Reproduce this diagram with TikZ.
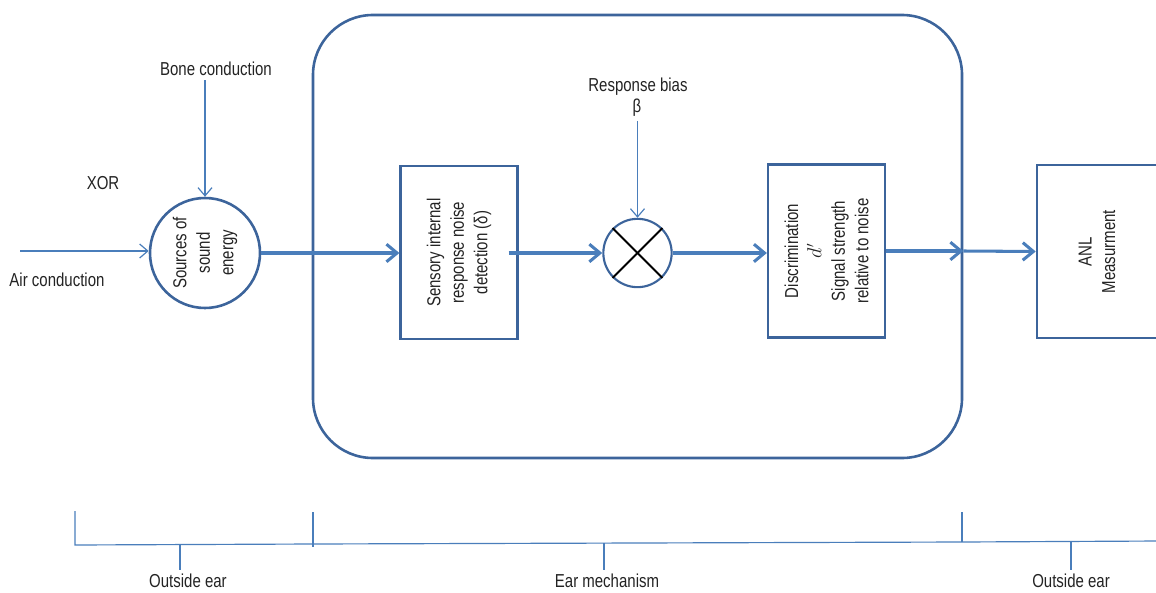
\documentclass[tikz,border=0pt]{standalone}
\usepackage{fontspec}
\setmainfont{Liberation Sans}[FakeStretch=0.8]
\usetikzlibrary{arrows.meta}
\definecolor{edgeblue}{RGB}{60,100,155}
\definecolor{flowblue}{RGB}{74,126,187}
\definecolor{inkgray}{RGB}{35,35,35}
\begin{document}
\begin{tikzpicture}
  [x=0.03cm,y=-0.03cm,font=\fontsize{16}{17.5}\selectfont,text=inkgray,
   block/.style={rectangle,draw=edgeblue,line width=2.2pt,minimum width=3.5cm,minimum height=5.2cm,inner sep=0pt},
   source/.style={circle,draw=edgeblue,line width=2.2pt,minimum size=3.3cm,inner sep=0pt},
   mixer/.style={circle,draw=edgeblue,line width=1.8pt,minimum size=2.05cm,inner sep=0pt},
   flow/.style={draw=flowblue,line width=2.6pt,-{Straight Barb[length=9pt,width=15pt,line width=2.6pt]}},
   feed/.style={draw=flowblue,line width=1pt,-{Straight Barb[length=7pt,width=12pt]}},
   brace/.style={draw=flowblue,line width=1pt},
   rtext/.style={rotate=90,align=center,font=\fontsize{16}{20}\selectfont}]
  \useasboundingbox (0,0) rectangle (1156,592);

  % ear mechanism frame
  \node (ear) at (637.5,236.5) [rectangle,draw=edgeblue,line width=2.2pt,rounded corners=1.8cm,
    minimum width=19.47cm,minimum height=13.29cm] {};

  \node (src) at (205,253) [source] {};
  \node at (src) [rtext] {Sources of\\sound\\energy};
  \node (sens) at (459,252.5) [block] {};
  \node at (sens) [rtext] {Sensory internal\\response noise\\detection (δ)};
  \node (mult) at (637.5,253) [mixer] {};
  \draw [line width=1.6pt,black] (mult.north west) -- (mult.south east);
  \draw [line width=1.6pt,black] (mult.north east) -- (mult.south west);
  \node (disc) at (826.5,251) [block] {};
  \node at (disc) [rtext] {Discrimination\\$d'$\\Signal strength\\relative to noise};
  \node (anl) at (1097,251.5) [block,minimum width=3.6cm] {};
  \node at (anl) [rtext] {ANL\\Measurment};

  % labels
  \node (bone) at (216,69) {Bone conduction};
  \node (xor) at (103,183) {XOR};
  \node (air) at (57,280) {Air conduction};
  \node (bias) at (638,87) {Response bias};
  \node (beta) at (637,108) {β};
  \coordinate (airin) at (20,251);
  \coordinate (edge) at (ear.east |- disc);

  \draw [feed] (airin) -- (src.west |- airin);
  \draw [feed] (bone.south -| src) -- (src.north);
  \draw [feed] (beta.south -| mult) -- (mult.north);
  \draw [flow] (src.east) -- (sens.west |- src);
  \draw [flow] ([xshift=-0.3cm]sens.east |- mult) -- (mult.west);
  \draw [flow] (mult.east) -- (disc.west |- mult);
  \draw [flow] (disc.east) -- (edge);
  \draw [flow] (edge) -- (anl.west);

  % bottom scale
  \coordinate (b1) at (75,545);
  \coordinate (b2) at (313,544);
  \coordinate (b3) at (962,542);
  \coordinate (b4) at (1160,541);
  \draw [brace] (75,511) -- (b1) -- (b2) -- (b3) -- (b4);
  \draw [brace] (313,512) -- (313,547);
  \draw [brace] (962,512) -- (b3);
  \node (out1) at (188,581) {Outside ear};
  \node (mech) at (607,581) {Ear mechanism};
  \node (out2) at (1071,581) {Outside ear};
  \draw [brace] (180,545) -- (out1.north -| 180,0);
  \draw [brace] (604,543) -- (mech.north -| 604,0);
  \draw [brace] (1071,541) -- (out2.north);
\end{tikzpicture}
\end{document}
